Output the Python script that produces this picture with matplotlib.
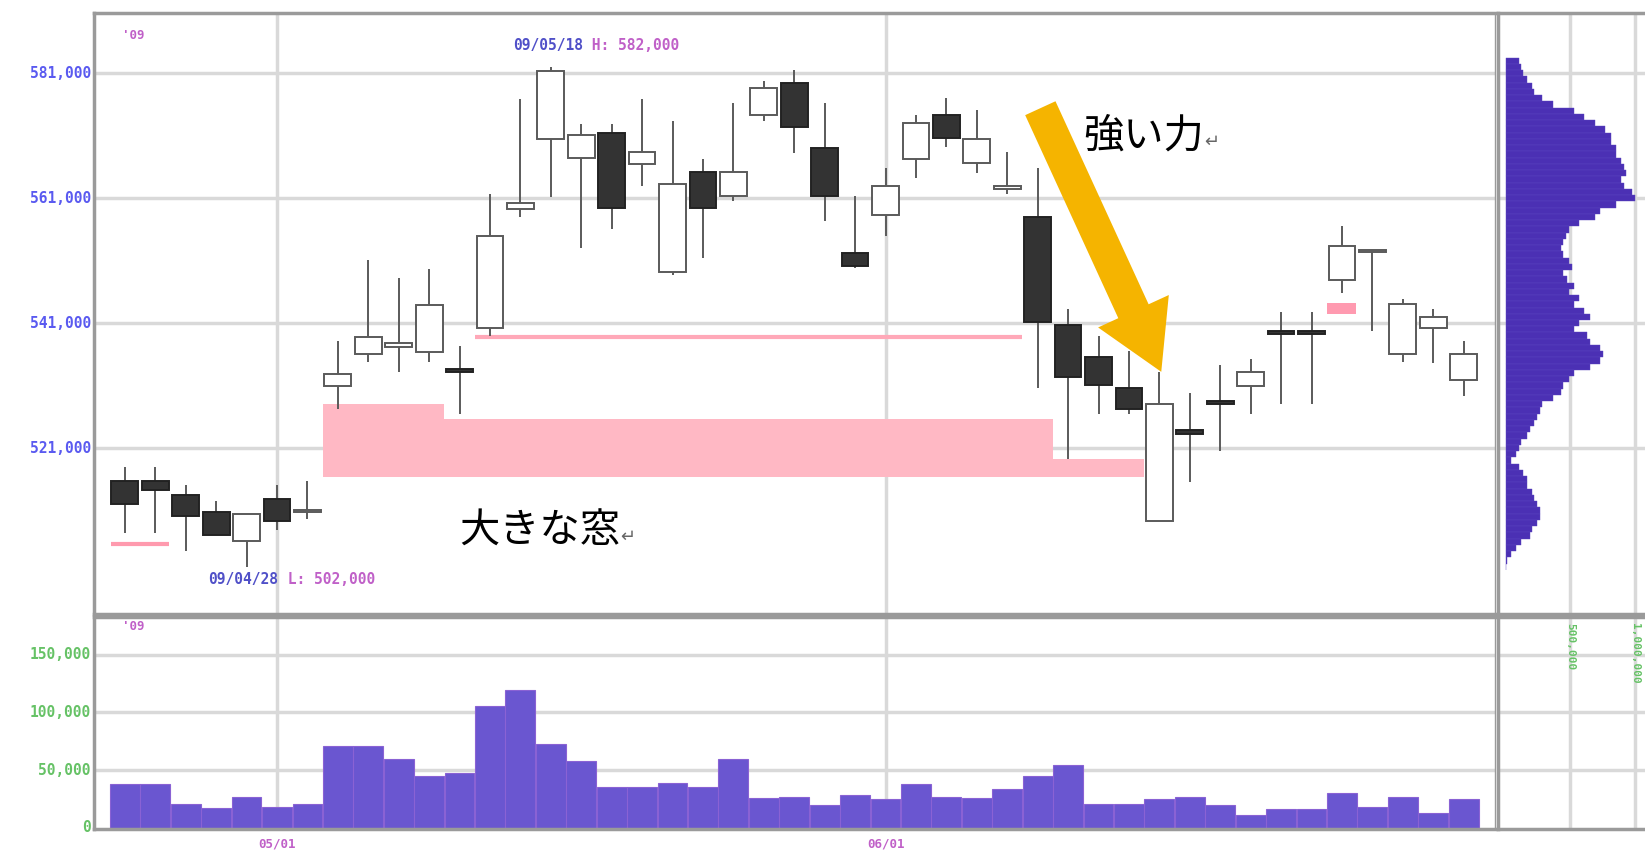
import numpy as np
import matplotlib
matplotlib.use("Agg")
import matplotlib.pyplot as plt
from matplotlib.patches import Rectangle

plt.rcParams['font.family'] = ['Noto Sans CJK JP', 'DejaVu Sans']

# daily candles (yen)
opens = [515800, 515800, 513500, 510800, 506200, 512800, 510800, 530900, 536000, 537200,
         536300, 533600, 540200, 559200, 570400, 567400, 571400, 566400, 549200, 565200,
         561400, 574300, 579500, 569100, 552300, 558300, 567200, 574300, 566700, 562400,
         558000, 540700, 535600, 530600, 509300, 523900, 528600, 530900, 539800, 539800,
         547900, 552400, 536000, 540200, 531900]
highs = [518000, 518000, 515100, 512500, 510400, 515100, 515800, 538200, 551100, 548200,
         549700, 537300, 561700, 576800, 582000, 572800, 572800, 576800, 573300, 567200,
         576300, 579700, 581500, 576300, 561400, 565900, 574300, 577100, 575100, 568400,
         565900, 543200, 539000, 536500, 533100, 529800, 534300, 535300, 542700, 542700,
         556500, 552600, 544800, 543200, 538200]
lows = [507400, 507400, 504600, 507100, 502000, 507900, 509600, 527200, 534800, 533100,
        534800, 526400, 539000, 558000, 561200, 553000, 556000, 562900, 548700, 551400,
        560500, 573400, 568200, 557300, 549800, 555000, 564200, 569200, 565000, 561700,
        530600, 519200, 526400, 526400, 509300, 515500, 520500, 526400, 528100, 528100,
        545900, 539800, 534800, 534600, 529300]
closes = [512100, 514300, 510100, 507100, 510400, 509300, 511000, 532800, 538800, 537800,
          543900, 533100, 555000, 560200, 581300, 571100, 559500, 568400, 563200, 559500,
          565200, 578600, 572400, 561400, 550100, 563000, 573100, 570600, 570400, 563000,
          541200, 532300, 531100, 527200, 528100, 523200, 528100, 533100, 539300, 539300,
          553300, 552400, 544000, 542000, 536000]
volumes = [37600, 37600, 20200, 17400, 26600, 18300, 20200, 70600, 70600, 59600,
           45000, 47700, 105500, 119300, 72500, 57800, 34900, 34900, 38500, 34900,
           59600, 25700, 26600, 19300, 28400, 24800, 37600, 26600, 25700, 33900,
           45000, 54100, 20200, 20200, 24800, 26600, 19300, 11000, 16500, 16500,
           30300, 18300, 26600, 12800, 24800]

# volume by price (1,000 yen bins, from 583,000 down to 502,000), in thousand shares
profile_prices = list(range(583000, 501000, -1000))
profile_vol = [106, 122, 138, 163, 204, 220, 285, 366, 529, 611,
               692, 773, 814, 814, 855, 855, 895, 920, 936, 895,
               920, 977, 1001, 855, 733, 692, 570, 488, 464, 448,
               431, 448, 488, 513, 448, 472, 529, 488, 570, 529,
               611, 651, 570, 529, 627, 651, 733, 757, 733, 651,
               529, 488, 448, 431, 366, 285, 269, 244, 220, 187,
               163, 122, 106, 81, 41, 106, 138, 163, 163, 204,
               220, 244, 269, 269, 244, 204, 187, 122, 81, 41,
               8, 5]

price_ticks = [581000, 561000, 541000, 521000]
price_labels = ["581,000", "561,000", "541,000", "521,000"]
vol_ticks = [0, 50000, 100000, 150000]
vol_labels = ["0", "50,000", "100,000", "150,000"]
date_pos = [5, 25]
date_labels = ["05/01", "06/01"]
prof_ticks = [500000, 1000000]
prof_labels = ["500,000", "1,000,000"]

# unfilled gap zones (start idx, end idx, top, bottom)
gaps = [(6.5, 10.5, 528000, 516300), (10.5, 30.5, 525600, 516300), (30.5, 33.5, 519200, 516300)]

W, H = 1645, 856
fig = plt.figure(figsize=(W / 100, H / 100), dpi=100)
ax = fig.add_axes([0.0574, 0.2831, 0.8514, 0.7022])
axv = fig.add_axes([0.0574, 0.0318, 0.8514, 0.2475])
axp = fig.add_axes([0.9106, 0.2831, 0.0894, 0.7022])
axq = fig.add_axes([0.9106, 0.0318, 0.0894, 0.2475])

grid_c = "#d9d9d9"
spine_c = "#9a9a9a"
blue = "#5a5af0"
green = "#66c266"
mag = "#c060c8"
mono = dict(family="DejaVu Sans Mono", fontweight="bold")

x = np.arange(len(opens))
for a in (ax, axv):
    a.set_xlim(-1.0, 45.03)
    for p in date_pos:
        a.axvline(p, color=grid_c, lw=2.5, zorder=0)
ax.set_ylim(494500, 590700)
axp.set_ylim(494500, 590700)
axv.set_ylim(-1000, 183000)
axq.set_ylim(-1000, 183000)
axp.set_xlim(-60000, 1080000)
axq.set_xlim(-60000, 1080000)

for t in price_ticks:
    ax.axhline(t, color=grid_c, lw=2.5, zorder=0)
    axp.axhline(t, color=grid_c, lw=2.5, zorder=0)
for t in vol_ticks[1:]:
    axv.axhline(t, color=grid_c, lw=2.5, zorder=0)
    axq.axhline(t, color=grid_c, lw=2.5, zorder=0)
for t in prof_ticks:
    axp.axvline(t, color=grid_c, lw=2.5, zorder=0)
    axq.axvline(t, color=grid_c, lw=2.5, zorder=0)

# gap zones and support lines
for x0, x1, top, bot in gaps:
    ax.add_patch(Rectangle((x0, bot), x1 - x0, top - bot, color="#ffb8c4", lw=0, zorder=1))
ax.hlines(538700, 11.5, 29.5, color="#ffa8b8", lw=3, zorder=1)
ax.hlines(505600, -0.45, 1.45, color="#ff9aae", lw=3, zorder=1)
ax.add_patch(Rectangle((39.5, 542400), 0.95, 1800, color="#ff9ab0", lw=0, zorder=4))

# candles
w = 0.88
for i in x:
    o, h, l, c = opens[i], highs[i], lows[i], closes[i]
    ax.vlines(i, l, h, color="#5a5a5a", lw=1.4, zorder=2)
    up = c >= o
    body = max(abs(c - o), 350)
    ax.bar(i, body, width=w, bottom=min(o, c), color="white" if up else "#333333",
           edgecolor="#5a5a5a" if up else "#222222", lw=1.4, zorder=3)

# volume
axv.bar(x, volumes, width=0.98, color="#6a56d0", edgecolor="#8a62d4", lw=0.8, zorder=2)

# volume profile
axp.barh(profile_prices, np.array(profile_vol) * 1000, height=1000, left=0,
         color="#4b30b4", edgecolor="#5a44c0", lw=0.3, zorder=2)

# axes frame and tick labels
for a in (ax, axv, axp, axq):
    a.set_xticks([])
    a.set_yticks([])
    for s in a.spines.values():
        s.set_color(spine_c)
        s.set_linewidth(2.5)
ax.spines['right'].set_linewidth(1.0)
axv.spines['right'].set_linewidth(1.0)
axp.spines['right'].set_visible(False)
axq.spines['right'].set_visible(False)
for t, lab in zip(price_ticks, price_labels):
    ax.text(-1.12, t, lab, color=blue, fontsize=10.5, ha="right", va="center", **mono)
for t, lab in zip(vol_ticks, vol_labels):
    axv.text(-1.12, t, lab, color=green, fontsize=10.5, ha="right", va="center", **mono)
for p, lab in zip(date_pos, date_labels):
    axv.text(p, -14000, lab, color=mag, fontsize=9, ha="center", va="center", **mono)
for t, lab in zip(prof_ticks, prof_labels):
    axq.text(t, 178000, lab, color=green, fontsize=8, ha="center", va="top",
             rotation=270, **mono)

ax.text(-0.1, 588000, "'09", color=mag, fontsize=9, va="top", **mono)
axv.text(-0.1, 180000, "'09", color=mag, fontsize=9, va="top", **mono)

# high / low notes
t1 = ax.text(12.75, 585400, "09/05/18", color="#5050c8", fontsize=10.5, va="center", **mono)
ax.annotate(" H: 582,000", xy=(1, 0.5), xycoords=t1, color=mag, fontsize=10.5,
            va="center", ha="left", **mono)
t2 = ax.text(2.75, 499900, "09/04/28", color="#5050c8", fontsize=10.5, va="center", **mono)
ax.annotate(" L: 502,000", xy=(1, 0.5), xycoords=t2, color=mag, fontsize=10.5,
            va="center", ha="left", **mono)

# comments
c1 = ax.text(11.0, 507700, "大きな窓", fontsize=29, color="black", va="center", ha="left")
ax.annotate("↵", xy=(1, 0.35), xycoords=c1, fontsize=13, color="#666666", va="center", ha="left")
c2 = ax.text(31.5, 571000, "強い力", fontsize=29, color="black", va="center", ha="left")
ax.annotate("↵", xy=(1, 0.35), xycoords=c2, fontsize=13, color="#666666", va="center", ha="left")
ax.annotate("", xy=(34.1, 532800), xytext=(30.05, 575800),
            arrowprops=dict(arrowstyle="simple,tail_width=0.6,head_width=1.4,head_length=1.2",
                            color="#f5b400", lw=0, mutation_scale=40), zorder=6)

fig.savefig("out.png", dpi=100)
